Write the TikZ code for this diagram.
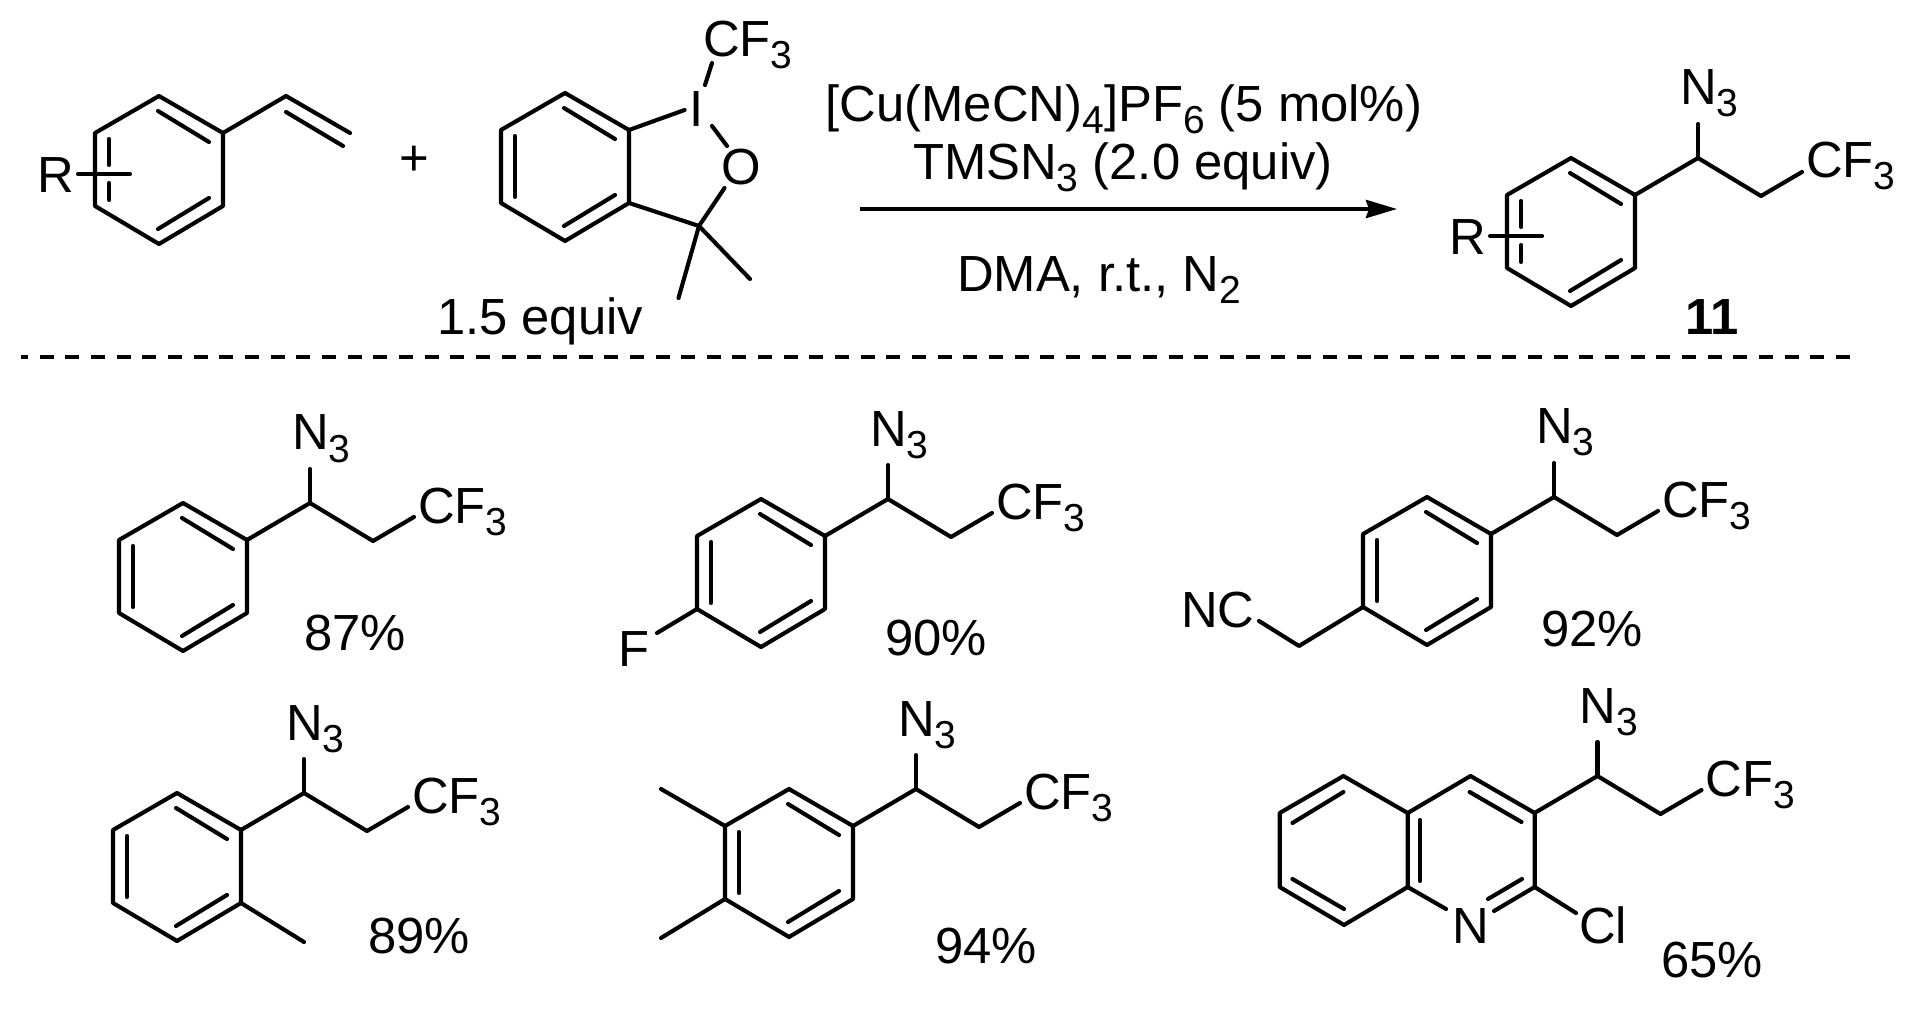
\documentclass[tikz,border=0pt]{standalone}
\usepackage{fontspec}
\setmainfont{Liberation Sans}
\usetikzlibrary{arrows.meta}
\newcommand\chemsub[1]{\raisebox{-6pt}{\fontsize{19.5}{20}\selectfont #1}}
\tikzset{
  bond/.style={line width=2.05pt,line cap=round,line join=round},
  lbl/.style={inner sep=0pt,outer sep=0pt,anchor=base west,font=\fontsize{25.4}{30}\selectfont},
  clbl/.style={lbl,anchor=base},
}
% ring with apex at (#2,#3); left inner bond drawn separately
\newcommand\ringcore[3]{%
  \coordinate (#1-t) at (#2,#3);
  \coordinate (#1-ur) at (#2+64,#3+37);
  \coordinate (#1-lr) at (#2+64,#3+110);
  \coordinate (#1-b) at (#2,#3+148);
  \coordinate (#1-ll) at (#2-64,#3+110);
  \coordinate (#1-ul) at (#2-64,#3+37);
  \coordinate (#1-i1) at (#2-1,#3+15);
  \coordinate (#1-i2) at (#2+50,#3+46);
  \coordinate (#1-i3) at (#2+50,#3+102);
  \coordinate (#1-i4) at (#2-1,#3+133);
  \coordinate (#1-i5) at (#2-50,#3+43);
  \coordinate (#1-i6) at (#2-50,#3+104);
  \draw[bond] (#1-t) -- (#1-ur) -- (#1-lr) -- (#1-b) -- (#1-ll) -- (#1-ul) -- cycle;
  \draw[bond] (#1-i1) -- (#1-i2);
  \draw[bond] (#1-i3) -- (#1-i4);
}
\newcommand\benz[3]{\ringcore{#1}{#2}{#3}\draw[bond] (#1-i5) -- (#1-i6);}
% ring with the floating R substituent
\newcommand\benzR[3]{%
  \ringcore{#1}{#2}{#3}
  \coordinate (#1-g1) at (#2-50,#3+69);
  \coordinate (#1-g2) at (#2-50,#3+87);
  \coordinate (#1-s1) at (#2-81,#3+78);
  \coordinate (#1-s2) at (#2-29,#3+78);
  \draw[bond] (#1-i5) -- (#1-g1);
  \draw[bond] (#1-g2) -- (#1-i6);
  \draw[bond] (#1-s1) -- (#1-s2);
  \node[lbl] (#1-R) at (#2-121.5,#3+97) {R};
}
% CH(N3)CH2CF3 chain hanging on the ring apex position (#2,#3)
\newcommand\chain[3]{%
  \coordinate (#1-a) at (#2+64,#3+37);
  \coordinate (#1-c1) at (#2+127,#3);
  \coordinate (#1-ne) at (#2+127,#3-34);
  \coordinate (#1-c2) at (#2+190,#3+38);
  \coordinate (#1-fe) at (#2+231,#3+14);
  \draw[bond] (#1-a) -- (#1-c1) -- (#1-c2) -- (#1-fe);
  \draw[bond] (#1-c1) -- (#1-ne);
  \node[lbl] (#1-N) at (#2+109,#3-53) {N\chemsub{3}};
  \node[lbl] (#1-F) at (#2+235,#3+20) {CF\chemsub{3}};
}
\begin{document}
\begin{tikzpicture}[x=0.5pt,y=-0.5pt]
\path[use as bounding box,fill=white] (0,0) rectangle (1914,1015);
% styrene
\benzR{sty}{159}{96}
\coordinate (vi1) at (286,96);
\coordinate (vi2) at (350,133);
\coordinate (vi3) at (286,112);
\coordinate (vi4) at (343,146);
\draw[bond] (sty-ur) -- (vi1) -- (vi2);
\draw[bond] (vi3) -- (vi4);
\node[clbl] (plus) at (414.6,176) {+};
% benziodoxole
\benz{tog}{565}{93}
\node[clbl] (togI) at (697,127) {I};
\node[clbl] (togO) at (741,185) {O};
\node[lbl] (togF) at (703,57) {CF\chemsub{3}};
\coordinate (tb1) at (684.6,110);
\coordinate (tb2) at (705,85);
\coordinate (tb3) at (712,63);
\coordinate (tb4) at (712,126);
\coordinate (tb5) at (727,146);
\coordinate (tb6) at (724.5,188);
\coordinate (tq) at (699,226);
\coordinate (tm1) at (678.5,298);
\coordinate (tm2) at (750,279);
\draw[bond] (tog-ur) -- (tb1);
\draw[bond] (tb2) -- (tb3);
\draw[bond] (tb4) -- (tb5);
\draw[bond] (tb6) -- (tq) -- (tog-lr);
\draw[bond] (tq) -- (tm1);
\draw[bond] (tq) -- (tm2);
\node[lbl] (equiv) at (437,335) {1.5 equiv};
% conditions
\node[lbl] (cond1) at (825.5,122) {[Cu(MeCN)\chemsub{4}]PF\chemsub{6} (5 mol\%)};
\node[lbl] (cond2) at (913,180) {TMSN\chemsub{3} (2.0 equiv)};
\node[lbl] (cond3) at (957,292) {DMA, r.t., N\chemsub{2}};
\coordinate (arrA) at (860,209);
\coordinate (arrB) at (1397,209);
\draw[line width=2pt,-{Stealth[length=15.5pt,width=9pt,inset=1.5pt]}] (arrA) -- (arrB);
% product 11
\benzR{prd}{1571}{158}
\chain{prd}{1571}{158}
\node[clbl,font=\fontsize{25.4}{30}\selectfont\bfseries] (eleven) at (1712,335) {11};
% divider
\coordinate (divA) at (21,357);
\coordinate (divB) at (1856,357);
\draw[line width=2pt,dash pattern=on 7pt off 5.83pt,dash phase=3.5pt] (divA) -- (divB);
% row 1
\benz{pa}{183}{503}
\chain{pa}{183}{503}
\node[lbl] (paY) at (304,650) {87\%};
\benz{pb}{761}{499}
\chain{pb}{761}{499}
\coordinate (pbe) at (657,633);
\draw[bond] (pb-ll) -- (pbe);
\node[lbl] (pbX) at (618,666) {F};
\node[lbl] (pbY) at (885,655) {90\%};
\benz{pc}{1427}{497}
\chain{pc}{1427}{497}
\coordinate (pcm) at (1299,646);
\coordinate (pce) at (1259,621);
\draw[bond] (pc-ll) -- (pcm) -- (pce);
\node[lbl] (pcX) at (1181,627) {NC};
\node[lbl] (pcY) at (1541,646) {92\%};
% row 2
\benz{pd}{177}{793}
\chain{pd}{177}{793}
\coordinate (pdm) at (304,942);
\draw[bond] (pd-lr) -- (pdm);
\node[lbl] (pdY) at (368,953) {89\%};
\benz{pe}{789}{789}
\chain{pe}{789}{789}
\coordinate (pem1) at (661,789);
\coordinate (pem2) at (661,938);
\draw[bond] (pe-ul) -- (pem1);
\draw[bond] (pe-ll) -- (pem2);
\node[lbl] (peY) at (935,963) {94\%};
% quinoline
\coordinate (q1) at (1343.4,776);
\coordinate (q2) at (1279.7,813);
\coordinate (q3) at (1279.7,887);
\coordinate (q4) at (1344,925);
\coordinate (q5) at (1407.7,887);
\coordinate (q6) at (1407.7,813);
\coordinate (q7) at (1470.5,776);
\coordinate (q8) at (1534.7,813);
\coordinate (q9) at (1534.7,887);
\coordinate (qn1) at (1446,909);
\coordinate (qn2) at (1494,911);
\coordinate (qcl) at (1576,913);
\coordinate (qi1) at (1343.4,792);
\coordinate (qi2) at (1292.4,823);
\coordinate (qi3) at (1292.4,879);
\coordinate (qi4) at (1344,909);
\coordinate (qi5) at (1420,820);
\coordinate (qi6) at (1420,881);
\coordinate (qi7) at (1469.6,792);
\coordinate (qi8) at (1521.5,822);
\coordinate (qi9) at (1522,879);
\coordinate (qi10) at (1488,899);
\draw[bond] (q1) -- (q2) -- (q3) -- (q4) -- (q5) -- (q6) -- cycle;
\draw[bond] (q6) -- (q7) -- (q8) -- (q9) -- (qn2);
\draw[bond] (q5) -- (qn1);
\draw[bond] (q9) -- (qcl);
\draw[bond] (qi1) -- (qi2);
\draw[bond] (qi3) -- (qi4);
\draw[bond] (qi5) -- (qi6);
\draw[bond] (qi7) -- (qi8);
\draw[bond] (qi9) -- (qi10);
\chain{qu}{1470.5}{776}
\node[lbl] (quN) at (1452,943) {N};
\node[lbl] (quCl) at (1579,943) {Cl};
\node[lbl] (quY) at (1661,977) {65\%};
\end{tikzpicture}
\end{document}
